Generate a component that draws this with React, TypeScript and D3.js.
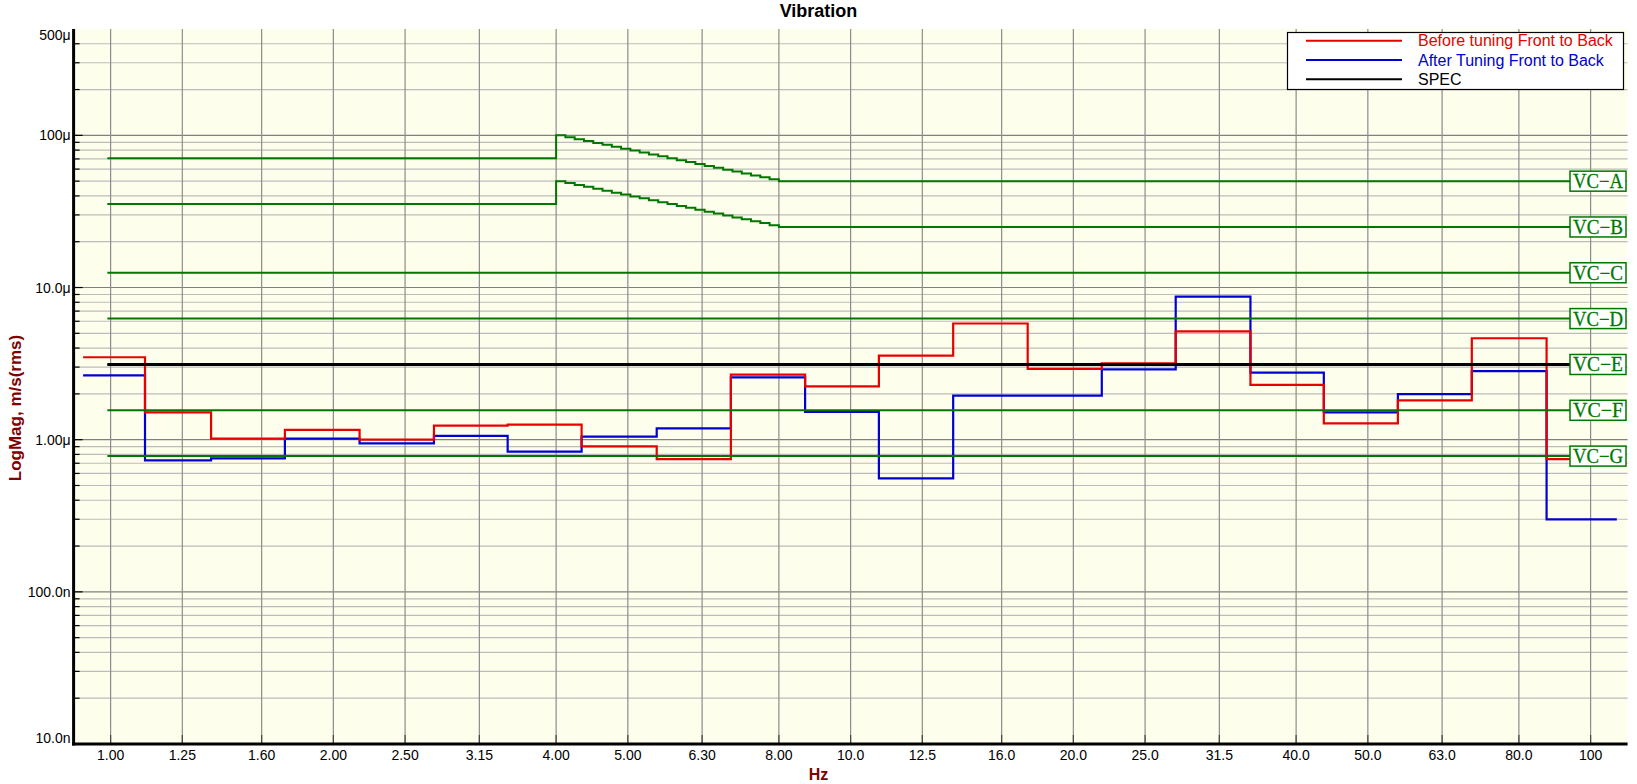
import * as d3 from 'd3'
import {useRef, useEffect} from 'react'

// third-octave tick labels (Hz)
const freqTicks = [1, 1.25, 1.6, 2, 2.5, 3.15, 4, 5, 6.3, 8, 10, 12.5, 16, 20, 25, 31.5, 40, 50, 63, 80, 100]
const freqLabels = ['1.00', '1.25', '1.60', '2.00', '2.50', '3.15', '4.00', '5.00', '6.30', '8.00', '10.0', '12.5', '16.0', '20.0', '25.0', '31.5', '40.0', '50.0', '63.0', '80.0', '100']

// band edges of the measured spectra (Hz)
const bandEdges = [0.918, 1.113, 1.367, 1.72, 2.17, 2.735, 3.44, 4.33, 5.47, 6.89, 8.68, 10.92, 13.76, 17.35, 21.85, 27.5, 34.7, 43.6, 54.9, 69.1, 87.2, 108.5]

// velocity, um/s rms
const beforeTuning = [3.48, 1.51, 1.015, 1.16, 1.0, 1.236, 1.255, 0.904, 0.746, 2.68, 2.24, 3.57, 5.8, 2.92, 3.18, 5.15, 2.29, 1.28, 1.81, 4.64, 0.746]
const afterTuning = [2.65, 0.731, 0.753, 1.015, 0.946, 1.06, 0.834, 1.047, 1.186, 2.57, 1.52, 0.557, 1.95, 1.95, 2.9, 8.7, 2.76, 1.51, 1.99, 2.82, 0.299]
const specLevel = 3.12

// VC criteria
const vcNames = ['VC\u2212A', 'VC\u2212B', 'VC\u2212C', 'VC\u2212D', 'VC\u2212E', 'VC\u2212F', 'VC\u2212G']
const vcLevels = [50, 25, 12.5, 6.25, 3.12, 1.56, 0.78]
// low-frequency part of VC-A / VC-B (1..4 Hz, then stair down 4..8 Hz)
const stairFreq = [0.99, 4, 4.117, 4.238, 4.362, 4.49, 4.621, 4.757, 4.896, 5.04, 5.187, 5.339, 5.496, 5.657, 5.822, 5.993, 6.169, 6.35, 6.535, 6.727, 6.924, 7.127, 7.336, 7.551, 7.772, 8, 100]
const vcAStair = [70.7, 100, 97.2, 94.4, 91.7, 89.1, 86.6, 84.1, 81.7, 79.4, 77.1, 74.9, 72.8, 70.7, 68.7, 66.7, 64.8, 63.0, 61.2, 59.5, 57.8, 56.1, 54.5, 53.0, 51.5, 50, 50]
const vcBStair = [35.4, 50, 48.6, 47.2, 45.9, 44.5, 43.3, 42.0, 40.8, 39.7, 38.6, 37.5, 36.4, 35.4, 34.3, 33.4, 32.4, 31.5, 30.6, 29.7, 28.9, 28.1, 27.3, 26.5, 25.7, 25, 25]

const yTickVals = [500, 100, 10, 1, 0.1, 0.01]
const yTickLabels = ['500\u03bc', '100\u03bc', '10.0\u03bc', '1.00\u03bc', '100.0n', '10.0n']

const legendNames = ['Before tuning Front to Back', 'After Tuning Front to Back', 'SPEC']

const W = 1637
const H = 784

export default function App() {
  const svgRef = useRef(null)

  useEffect(() => {
    const svg = d3.select(svgRef.current)
    svg.selectAll('*').remove()

    const left = 73.6, right = 1627.6, top = 29, bottom = 744
    const x = d3.scaleLog().domain([Math.pow(10, -0.05), Math.pow(10, 2.05)]).range([left, right])
    const y = d3.scaleLog().domain([0.01, 500]).range([bottom, top])

    const red = '#e80000', blue = '#0000d2', green = '#007800'
    const font = 'Liberation Sans, Arial, sans-serif'

    svg.append('rect').attr('x', left).attr('y', top)
      .attr('width', right - left).attr('height', bottom - top).attr('fill', '#fefeec')

    // horizontal grid
    const minor: number[] = []
    for (let e = -2; e <= 2; e++) {
      for (let m = 2; m <= 9; m++) {
        const v = m * Math.pow(10, e)
        if (v < 500) minor.push(v)
      }
    }
    svg.append('g').selectAll('line').data(minor).enter().append('line')
      .attr('x1', left).attr('x2', right)
      .attr('y1', d => y(d)).attr('y2', d => y(d))
      .attr('stroke', '#bcbcbc').attr('stroke-width', 1.2)
    svg.append('g').selectAll('line').data([0.1, 1, 10, 100]).enter().append('line')
      .attr('x1', left).attr('x2', right)
      .attr('y1', d => y(d)).attr('y2', d => y(d))
      .attr('stroke', '#808080').attr('stroke-width', 1.2)

    // vertical grid
    svg.append('g').selectAll('line').data(freqTicks).enter().append('line')
      .attr('x1', d => x(d)).attr('x2', d => x(d))
      .attr('y1', top).attr('y2', bottom)
      .attr('stroke', '#8c8c8c').attr('stroke-width', 1.2)

    // y ticks (inward)
    svg.append('g').selectAll('line').data(minor).enter().append('line')
      .attr('x1', left).attr('x2', left + 6)
      .attr('y1', d => y(d)).attr('y2', d => y(d))
      .attr('stroke', '#000').attr('stroke-width', 1.2)
    svg.append('g').selectAll('line').data([0.1, 1, 10, 100]).enter().append('line')
      .attr('x1', left).attr('x2', left + 9)
      .attr('y1', d => y(d)).attr('y2', d => y(d))
      .attr('stroke', '#000').attr('stroke-width', 1.2)
    svg.append('g').selectAll('line').data(freqTicks).enter().append('line')
      .attr('x1', d => x(d)).attr('x2', d => x(d))
      .attr('y1', bottom - 9).attr('y2', bottom)
      .attr('stroke', '#444').attr('stroke-width', 1.2)

    // measured spectra
    const stepLine = d3.line<[number, number]>()
      .x(d => x(d[0])).y(d => y(d[1])).curve(d3.curveStepAfter)
    const toSteps = (vals: number[]): [number, number][] => {
      const pts: [number, number][] = vals.map((v, i) => [bandEdges[i], v])
      pts.push([bandEdges[vals.length], vals[vals.length - 1]])
      return pts
    }
    svg.append('path').attr('d', stepLine(toSteps(afterTuning)))
      .attr('fill', 'none').attr('stroke', blue).attr('stroke-width', 2.2)
    svg.append('path').attr('d', stepLine(toSteps(beforeTuning)))
      .attr('fill', 'none').attr('stroke', red).attr('stroke-width', 2.2)

    // VC criteria lines
    const vcStart = 0.99
    svg.append('path').attr('d', stepLine(stairFreq.map((f, i) => [f, vcAStair[i]] as [number, number])))
      .attr('fill', 'none').attr('stroke', green).attr('stroke-width', 2)
    svg.append('path').attr('d', stepLine(stairFreq.map((f, i) => [f, vcBStair[i]] as [number, number])))
      .attr('fill', 'none').attr('stroke', green).attr('stroke-width', 2)
    svg.append('g').selectAll('line').data(vcLevels.slice(2)).enter().append('line')
      .attr('x1', x(vcStart)).attr('x2', x(100))
      .attr('y1', d => y(d)).attr('y2', d => y(d))
      .attr('stroke', green).attr('stroke-width', 2)

    // SPEC
    svg.append('line')
      .attr('x1', x(vcStart)).attr('x2', x(100))
      .attr('y1', y(specLevel)).attr('y2', y(specLevel))
      .attr('stroke', '#000').attr('stroke-width', 3)

    // VC labels
    const lab = svg.append('g').selectAll('g').data(vcLevels).enter().append('g')
      .attr('transform', d => `translate(1570,${y(d)})`)
    lab.append('rect').attr('x', 0).attr('y', -10).attr('width', 56).attr('height', 20)
      .attr('fill', '#ffffff').attr('stroke', green).attr('stroke-width', 1.5)
    lab.append('text').text((d, i) => vcNames[i])
      .attr('x', 3).attr('y', 7)
      .attr('textLength', 50).attr('lengthAdjust', 'spacingAndGlyphs')
      .attr('font-family', 'Liberation Serif, Times New Roman, serif').attr('font-size', 20)
      .attr('fill', green).attr('stroke', green).attr('stroke-width', 0.3)

    // axes lines
    svg.append('line').attr('x1', left).attr('x2', left).attr('y1', top).attr('y2', bottom + 1.5)
      .attr('stroke', '#000').attr('stroke-width', 3)
    svg.append('line').attr('x1', left - 1.5).attr('x2', right).attr('y1', bottom).attr('y2', bottom)
      .attr('stroke', '#000').attr('stroke-width', 3)

    // tick labels
    svg.append('g').selectAll('text').data(yTickVals).enter().append('text')
      .text((d, i) => yTickLabels[i])
      .attr('x', left - 3)
      .attr('y', d => Math.min(Math.max(y(d), top + 6), bottom - 6) + 5)
      .attr('text-anchor', 'end').attr('font-family', font).attr('font-size', 14).attr('fill', '#000')
    svg.append('g').selectAll('text').data(freqTicks).enter().append('text')
      .text((d, i) => freqLabels[i])
      .attr('x', d => x(d)).attr('y', bottom + 16)
      .attr('text-anchor', 'middle').attr('font-family', font).attr('font-size', 14).attr('fill', '#000')

    // titles
    svg.append('text').text('Vibration').attr('x', W / 2).attr('y', 17)
      .attr('text-anchor', 'middle').attr('font-family', font).attr('font-size', 18)
      .attr('font-weight', 'bold').attr('fill', '#000')
    svg.append('text').text('Hz').attr('x', W / 2).attr('y', 780)
      .attr('text-anchor', 'middle').attr('font-family', font).attr('font-size', 16)
      .attr('font-weight', 'bold').attr('fill', '#800000')
    svg.append('text').text('LogMag, m/s(rms)')
      .attr('transform', `translate(21,408) rotate(-90)`)
      .attr('text-anchor', 'middle').attr('font-family', font).attr('font-size', 17)
      .attr('font-weight', 'bold').attr('fill', '#800000')

    // legend
    const lg = svg.append('g')
    lg.append('rect').attr('x', 1287.5).attr('y', 32.5).attr('width', 336).attr('height', 57)
      .attr('fill', '#fff').attr('stroke', '#000').attr('stroke-width', 1.2)
    const legendColors = [red, blue, '#000']
    const rows = lg.selectAll('g').data(legendNames).enter().append('g')
      .attr('transform', (d, i) => `translate(0,${40.7 + i * 19.3})`)
    rows.append('line').attr('x1', 1306).attr('x2', 1402).attr('y1', 0).attr('y2', 0)
      .attr('stroke', (d, i) => legendColors[i]).attr('stroke-width', 2)
    rows.append('text').text(d => d).attr('x', 1418).attr('y', 5.5)
      .attr('font-family', font).attr('font-size', 16).attr('fill', (d, i) => legendColors[i])
  }, [])

  return <svg ref={svgRef} width={W} height={H} style={{position: 'absolute', left: 0, top: 0}}></svg>
}
